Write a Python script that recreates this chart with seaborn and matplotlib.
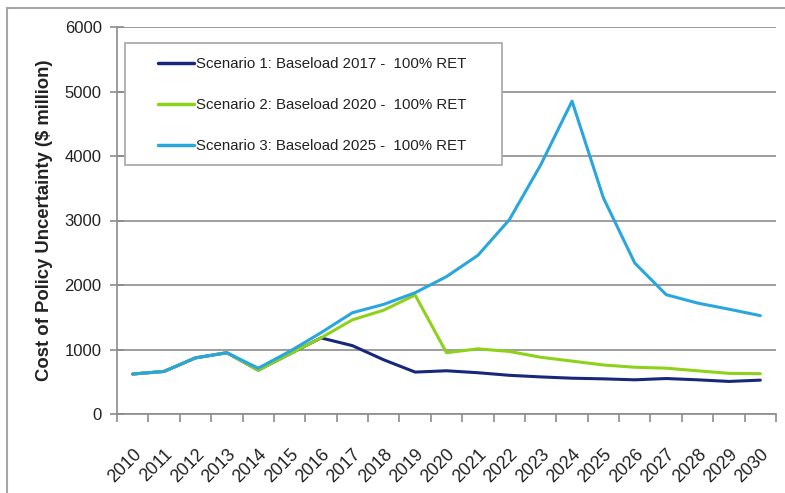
import matplotlib
matplotlib.use("Agg")
import matplotlib.pyplot as plt
import matplotlib.transforms as mtransforms
import seaborn as sns
import pandas as pd
from matplotlib.patches import Rectangle
from matplotlib.ticker import MultipleLocator, FixedLocator

years = list(range(2010, 2031))
scenario_1 = [620, 660, 870, 950, 680, 930, 1180, 1060, 840, 650, 670,
              640, 600, 575, 555, 545, 530, 550, 530, 505, 525]
scenario_2 = [620, 660, 870, 950, 680, 930, 1180, 1460, 1610, 1845, 950,
              1010, 970, 880, 820, 760, 725, 710, 670, 630, 625]
scenario_3 = [620, 660, 870, 950, 710, 970, 1260, 1570, 1700, 1880, 2130,
              2460, 3010, 3860, 4850, 3350, 2340, 1850, 1720, 1625, 1525]
series_names = ["Scenario 1: Baseload 2017 -  100% RET",
                "Scenario 2: Baseload 2020 -  100% RET",
                "Scenario 3: Baseload 2025 -  100% RET"]
colors = ["#17287a", "#8ed11a", "#2aa6de"]

df = pd.concat([
    pd.DataFrame({"Year": years, "Cost": vals, "Scenario": name})
    for name, vals in zip(series_names, [scenario_1, scenario_2, scenario_3])
])

sns.set_theme(style="white")
plt.rcParams["font.family"] = ["Liberation Sans", "DejaVu Sans"]

W, H = 785, 493
fig = plt.figure(figsize=(W / 100, H / 100), dpi=100)
ax_l, ax_r, ax_t, ax_b = 117, 776, 27, 414
ax = fig.add_axes([ax_l / W, 1 - ax_b / H, (ax_r - ax_l) / W, (ax_b - ax_t) / H])
aw, ah = ax_r - ax_l, ax_b - ax_t

# outer chart frame
fig.patches.append(Rectangle((7 / W, -0.1), 1.2, 1 - 8 / H + 0.1,
                             transform=fig.transFigure, fill=False,
                             edgecolor="#a6a6a6", linewidth=1.5))

sns.lineplot(data=df, x="Year", y="Cost", hue="Scenario", palette=colors,
             linewidth=2.2, ax=ax, legend=True)

ax.set_xlim(2009.5, 2030.5)
ax.set_ylim(0, 6000)
ax.yaxis.set_major_locator(MultipleLocator(1000))
ax.grid(axis="y", color="#8c8c8c", linewidth=1.2)
ax.set_axisbelow(True)

ax.xaxis.set_major_locator(FixedLocator(years))
ax.xaxis.set_minor_locator(FixedLocator([y - 0.5 for y in years] + [2030.5]))
ax.set_xticklabels([str(y) for y in years], rotation=45, ha="right",
                   rotation_mode="anchor", fontsize=12.8, color="#222222")
shift = mtransforms.ScaledTranslation(-1 / 100, 0, fig.dpi_scale_trans)
for lab in ax.get_xticklabels():
    lab.set_transform(lab.get_transform() + shift)
ax.tick_params(axis="x", which="major", length=0, pad=23)
ax.tick_params(axis="x", which="minor", length=6, width=1.2, color="#8c8c8c",
               direction="out", bottom=True)
ax.tick_params(axis="y", which="major", length=10, width=1.2, color="#8c8c8c",
               direction="inout", left=True, labelsize=12, pad=6)
for lab in ax.get_yticklabels():
    lab.set_color("#222222")

for side in ["top", "right"]:
    ax.spines[side].set_visible(False)
for side in ["left", "bottom"]:
    ax.spines[side].set_color("#8c8c8c")
    ax.spines[side].set_linewidth(1.2)

ax.set_xlabel("")
ax.set_ylabel("Cost of Policy Uncertainty ($ million)", fontsize=13.3,
              fontweight="bold", color="#222222", labelpad=8)

# legend entries, with a separate box around them
leg = ax.legend(loc="upper left", bbox_to_anchor=((158 - ax_l) / aw, (ax_b - 57) / ah),
                fontsize=10.8, frameon=False, handlelength=2.4,
                handletextpad=0.12, labelspacing=1.8, borderpad=0,
                borderaxespad=0, title=None)
for h in leg.get_lines():
    h.set_linewidth(2.5)
for t in leg.get_texts():
    t.set_color("#222222")
ax.add_patch(Rectangle(((125 - ax_l) / aw, (ax_b - 165) / ah),
                       (502 - 125) / aw, (165 - 43) / ah,
                       transform=ax.transAxes, facecolor="white",
                       edgecolor="#a6a6a6", linewidth=1.2, zorder=4))
leg.set_zorder(5)

fig.savefig("out.png", dpi=100)
